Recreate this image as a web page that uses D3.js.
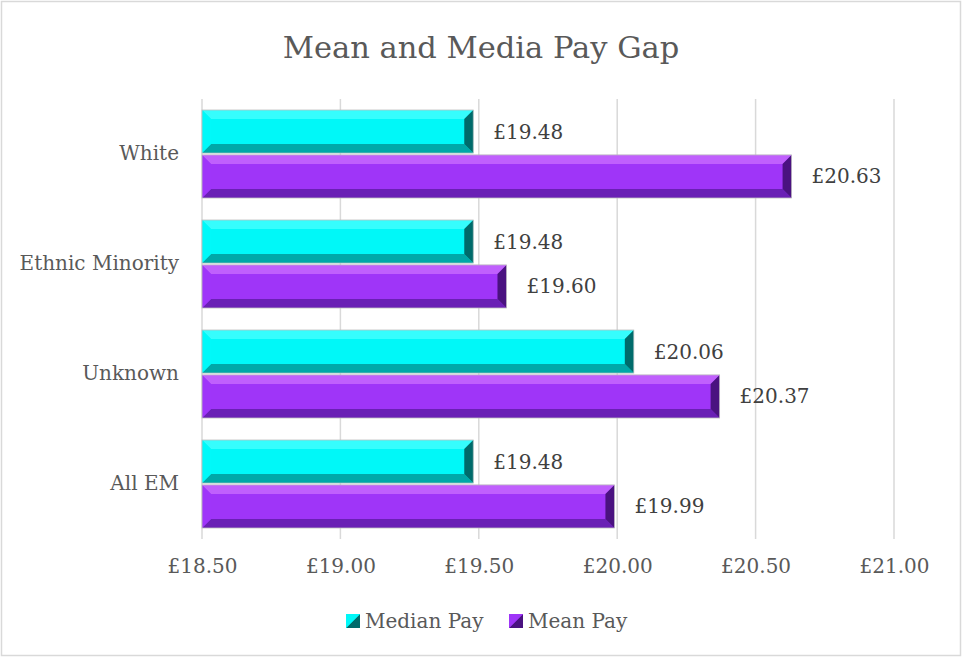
<!DOCTYPE html>
<html>
<head>
<meta charset="utf-8">
<script src="https://cdn.jsdelivr.net/npm/d3@7"></script>
<style>
  body { margin: 0; background: #fff; }
  #chart { width: 962px; height: 657px; }
  text { font-family: "DejaVu Serif", "Liberation Serif", serif; }
</style>
</head>
<body>
<div id="chart"></div>
<script>
// data
const categories = ["White", "Ethnic Minority", "Unknown", "All EM"];
const seriesNames = ["Median Pay", "Mean Pay"];
const medianPay = [19.48, 19.48, 20.06, 19.48];
const meanPay = [20.63, 19.60, 20.37, 19.99];
const tickValues = [18.5, 19.0, 19.5, 20.0, 20.5, 21.0];

const palette = {
    "Median Pay": {main: "#00f8f8", light: "#4dffff", dark: "#00a8a8", edge: "#006b6b"},
    "Mean Pay":   {main: "#9f35f8", light: "#cf73ff", dark: "#6a20b5", edge: "#4a1280"}
};

const width = 962, height = 657;
const margin = {top: 99, right: 68, bottom: 118, left: 202};
const innerW = width - margin.left - margin.right;
const innerH = height - margin.top - margin.bottom;

const svg = d3.select("#chart").append("svg")
    .attr("width", width)
    .attr("height", height);

// chart border
svg.append("rect")
    .attr("x", 1.5).attr("y", 1.5)
    .attr("width", width - 3).attr("height", height - 3)
    .attr("fill", "#fff")
    .attr("stroke", "#d9d9d9")
    .attr("stroke-width", 1.5);

svg.append("text")
    .attr("x", width / 2)
    .attr("y", 58)
    .attr("text-anchor", "middle")
    .attr("font-size", 30.5)
    .attr("fill", "#595959")
    .text("Mean and Media Pay Gap");

const g = svg.append("g")
    .attr("transform", `translate(${margin.left},${margin.top})`);

const x = d3.scaleLinear()
    .domain([18.5, 21.0])
    .range([0, innerW]);

const y = d3.scaleBand()
    .domain(categories)
    .range([0, innerH])
    .paddingInner(0.2)
    .paddingOuter(0.1);

const ySub = d3.scaleBand()
    .domain(seriesNames)
    .range([0, y.bandwidth()])
    .paddingInner(0.04);

// gridlines
g.append("g")
    .selectAll("line")
    .data(tickValues)
    .enter().append("line")
    .attr("x1", d => x(d)).attr("x2", d => x(d))
    .attr("y1", 0).attr("y2", innerH)
    .attr("stroke", "#d9d9d9")
    .attr("stroke-width", 1.5);

// x axis labels
const xAxis = d3.axisBottom(x)
    .tickValues(tickValues)
    .tickSize(0)
    .tickPadding(20)
    .tickFormat(d => "£" + d3.format(".2f")(d));

g.append("g")
    .attr("transform", `translate(0,${innerH})`)
    .call(xAxis)
    .call(a => a.select(".domain").remove())
    .selectAll("text")
    .attr("font-size", 20)
    .attr("font-family", "DejaVu Serif")
    .attr("fill", "#595959");

// y axis labels
const yAxis = d3.axisLeft(y)
    .tickSize(0)
    .tickPadding(23);

g.append("g")
    .call(yAxis)
    .call(a => a.select(".domain").remove())
    .selectAll("text")
    .attr("font-size", 20)
    .attr("font-family", "DejaVu Serif")
    .attr("fill", "#595959");

const rows = [];
categories.forEach((c, i) => {
    rows.push({cat: c, series: "Median Pay", value: medianPay[i]});
    rows.push({cat: c, series: "Mean Pay", value: meanPay[i]});
});

// bevelled bar drawing
function drawBevel(sel, x0, x1, y0, h, col) {
    const b = Math.min(9, h / 4, (x1 - x0) / 2);
    sel.append("rect")
        .attr("x", x0).attr("y", y0)
        .attr("width", x1 - x0).attr("height", h)
        .attr("fill", col.main);
    // top highlight
    sel.append("polygon")
        .attr("points", [[x0, y0], [x1, y0], [x1 - b, y0 + b], [x0 + b, y0 + b]].join(" "))
        .attr("fill", col.light).attr("opacity", 0.7);
    // bottom shade
    sel.append("polygon")
        .attr("points", [[x0, y0 + h], [x1, y0 + h], [x1 - b, y0 + h - b], [x0 + b, y0 + h - b]].join(" "))
        .attr("fill", col.dark);
    // left face
    sel.append("polygon")
        .attr("points", [[x0, y0], [x0 + b, y0 + b], [x0 + b, y0 + h - b], [x0, y0 + h]].join(" "))
        .attr("fill", col.main).attr("opacity", 0.9);
    // right end
    sel.append("polygon")
        .attr("points", [[x1, y0], [x1 - b, y0 + b], [x1 - b, y0 + h - b], [x1, y0 + h]].join(" "))
        .attr("fill", col.edge);
    sel.append("rect")
        .attr("x", x0).attr("y", y0)
        .attr("width", x1 - x0).attr("height", h)
        .attr("fill", "none")
        .attr("stroke", "#bfbfbf").attr("stroke-width", 0.8);
}

const bars = g.append("g")
    .selectAll("g")
    .data(rows)
    .enter().append("g");

bars.each(function(d) {
    const y0 = y(d.cat) + ySub(d.series);
    drawBevel(d3.select(this), x(18.5), x(d.value), y0, ySub.bandwidth(), palette[d.series]);
});

bars.append("text")
    .attr("x", d => x(d.value) + 20)
    .attr("y", d => y(d.cat) + ySub(d.series) + ySub.bandwidth() / 2)
    .attr("dy", "0.35em")
    .attr("font-size", 20)
    .attr("fill", "#404040")
    .text(d => "£" + d3.format(".2f")(d.value));

// legend
const legend = svg.append("g")
    .attr("transform", "translate(346,621)");

const legendItems = legend.selectAll("g")
    .data(seriesNames)
    .enter().append("g")
    .attr("transform", (d, i) => `translate(${i * 163},0)`);

legendItems.each(function(d) {
    const s = d3.select(this);
    const col = palette[d];
    const sz = 14;
    s.append("rect").attr("x", 0).attr("y", -sz / 2).attr("width", sz).attr("height", sz).attr("fill", col.main);
    s.append("polygon")
        .attr("points", [[sz, -sz / 2], [sz, sz / 2], [0, sz / 2], [sz / 2, 0]].join(" "))
        .attr("fill", col.edge);
    s.append("polygon")
        .attr("points", [[sz, -sz / 2], [sz / 2, 0], [0, sz / 2], [0, -sz / 2]].join(" "))
        .attr("fill", col.main);
    s.append("text")
        .attr("x", 19)
        .attr("dy", "0.35em")
        .attr("font-size", 20)
        .attr("fill", "#595959")
        .text(d);
});
</script>
</body>
</html>
